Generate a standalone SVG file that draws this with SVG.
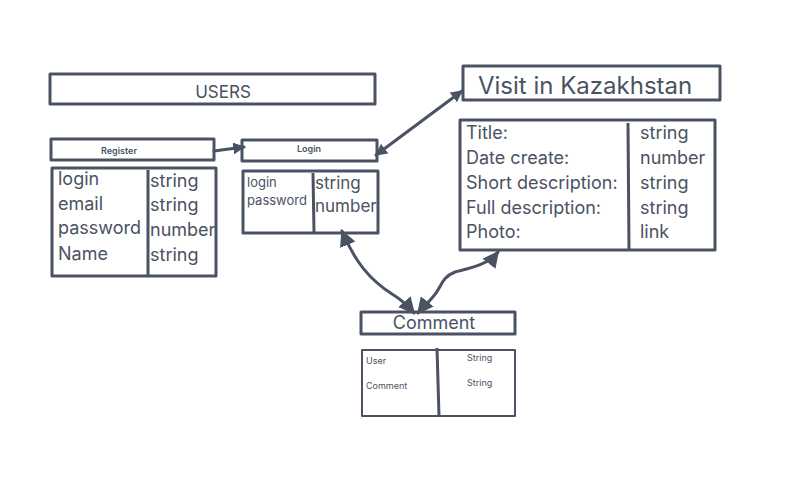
<svg xmlns="http://www.w3.org/2000/svg" width="796" height="499" viewBox="0 0 796 499">
<defs>
<style>
.b{fill:#fff;stroke:#4a5263;stroke-width:3;stroke-linejoin:round}
.d{stroke:#4a5263;stroke-width:3;fill:none}
.t{font-family:"Inter","Liberation Sans",sans-serif;fill:#4a5263}
.c{fill:none;stroke:#4a5263;stroke-width:3;stroke-linecap:round}
</style>
<marker id="ah" viewBox="0 0 10 10" refX="9" refY="5" markerWidth="4" markerHeight="4" orient="auto-start-reverse">
<path d="M0,0 L10,5 L0,10 z" fill="#4a5263"/>
</marker>
<marker id="ahb" viewBox="0 0 10 10" refX="9" refY="5" markerWidth="5.5" markerHeight="5.5" orient="auto-start-reverse">
<path d="M0,0 L10,5 L0,10 z" fill="#4a5263"/>
</marker>
</defs>
<rect width="796" height="499" fill="#fff"/>
<g id="users">
<rect class="b" x="50" y="74" width="325" height="30"/>
<text class="t" x="223" y="98" font-size="17" text-anchor="middle">USERS</text>
</g>
<g id="register">
<rect class="b" x="51" y="139" width="163" height="21"/>
<text class="t" x="119" y="154" font-size="9" font-weight="600" text-anchor="middle">Register</text>
</g>
<g id="register-table">
<rect class="b" x="52" y="168" width="164" height="108"/>
<line class="d" x1="148" y1="170" x2="148" y2="275"/>
<g class="t" font-size="18">
<text x="58" y="185">login</text>
<text x="58" y="210">email</text>
<text x="58" y="234">password</text>
<text x="58" y="260">Name</text>
<text x="150" y="187">string</text>
<text x="150" y="211">string</text>
<text x="150" y="236">number</text>
<text x="150" y="261">string</text>
</g>
</g>
<g id="login">
<rect class="b" x="242" y="140" width="135" height="21"/>
<text class="t" x="309" y="152" font-size="9" font-weight="600" text-anchor="middle">Login</text>
</g>
<g id="login-table">
<rect class="b" x="243" y="171" width="135" height="62"/>
<line class="d" x1="313" y1="173" x2="314" y2="232"/>
<g class="t">
<text x="247" y="187" font-size="13">login</text>
<text x="247" y="205" font-size="13">password</text>
<text x="315" y="189" font-size="17">string</text>
<text x="315" y="212" font-size="17">number</text>
</g>
</g>
<g id="visit">
<rect class="b" x="463" y="66" width="257" height="34"/>
<text class="t" x="478" y="94" font-size="24">Visit in Kazakhstan</text>
</g>
<g id="visit-table">
<rect class="b" x="460" y="120" width="255" height="130"/>
<line class="d" x1="628" y1="123" x2="629" y2="250"/>
<g class="t" font-size="18">
<text x="466" y="139">Title:</text>
<text x="466" y="164">Date create:</text>
<text x="466" y="189">Short description:</text>
<text x="466" y="214">Full description:</text>
<text x="466" y="238">Photo:</text>
<text x="640" y="139">string</text>
<text x="640" y="164">number</text>
<text x="640" y="189">string</text>
<text x="640" y="214">string</text>
<text x="640" y="238">link</text>
</g>
</g>
<g id="comment">
<rect class="b" x="361" y="312" width="154" height="22"/>
<text class="t" x="434" y="329" font-size="18" text-anchor="middle">Comment</text>
</g>
<g id="comment-table">
<rect class="b" x="362" y="350" width="153" height="66" style="stroke-width:2"/>
<line class="d" x1="437" y1="348" x2="439" y2="416"/>
<g class="t" font-size="9">
<text x="366" y="364">User</text>
<text x="366" y="389">Comment</text>
<text x="467" y="361">String</text>
<text x="467" y="386">String</text>
</g>
</g>
<g id="connectors">
<path class="c" d="M214,151 L244,147" marker-end="url(#ah)"/>
<path class="c" d="M462,91 L376,155" marker-start="url(#ah)" marker-end="url(#ah)"/>
<path class="c" d="M342,231 C355,262 370,280 392,294 C402,300 408,306 414,313" marker-start="url(#ahb)" marker-end="url(#ahb)"/>
<path class="c" d="M498,252 C488,265 470,268 455,272 C440,278 442,288 432,298 C426,305 422,308 418,313" marker-start="url(#ahb)" marker-end="url(#ahb)"/>
</g>
</svg>
